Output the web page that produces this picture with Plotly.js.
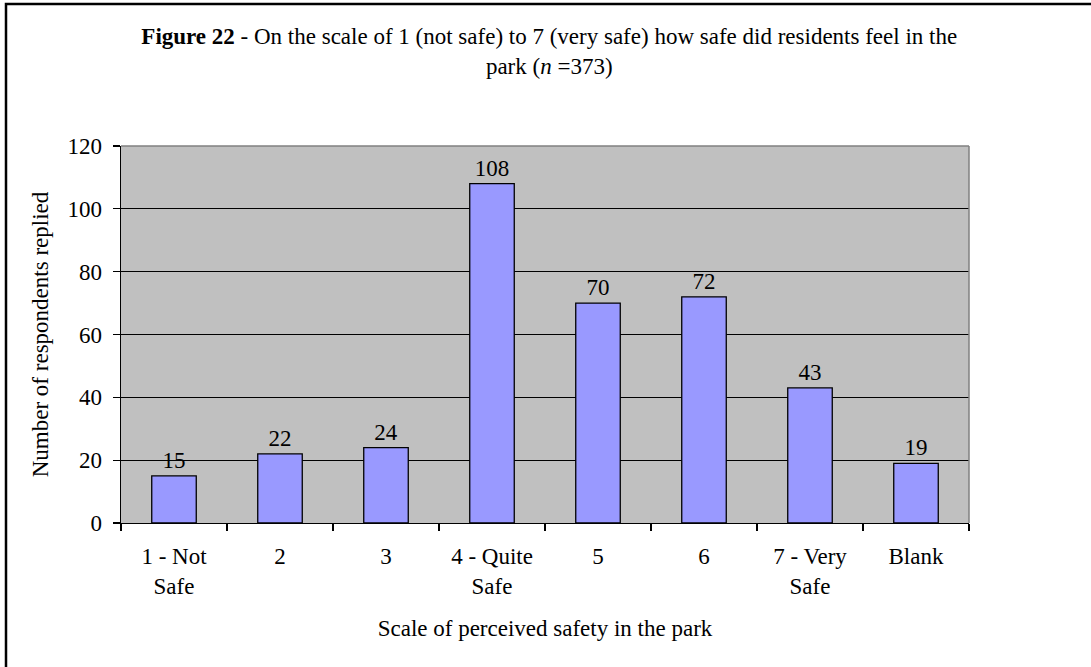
<!DOCTYPE html>
<html>
<head>
<meta charset="utf-8">
<script src="https://cdn.plot.ly/plotly-3.0.1.min.js"></script>
<style>
html, body { margin: 0; padding: 0; background: #ffffff; }
#chart { width: 1091px; height: 667px; }
</style>
</head>
<body>
<div id="chart"></div>
<script>
const categories = ["1 - Not<br>Safe", "2", "3", "4 - Quite<br>Safe", "5", "6", "7 - Very<br>Safe", "Blank"];
const values = [15, 22, 24, 108, 70, 72, 43, 19];
const yTicks = [0, 20, 40, 60, 80, 100, 120];

const FONT = "Liberation Serif, Times New Roman, serif";
const FS = 23;

const trace = {
  type: "bar",
  x: categories,
  y: values,
  text: values.map(String),
  textposition: "outside",
  cliponaxis: false,
  textfont: { family: FONT, size: FS, color: "#000000" },
  marker: { color: "#9999FF", line: { color: "#000000", width: 1.3 } },
  hoverinfo: "skip"
};

const layout = {
  width: 1091,
  height: 667,
  paper_bgcolor: "#ffffff",
  plot_bgcolor: "#C0C0C0",
  margin: { l: 121, r: 122, t: 146, b: 144, autoexpand: false },
  font: { family: FONT, size: FS, color: "#000000" },
  showlegend: false,
  bargap: 0.58,
  title: {
    text: "<b>Figure 22</b> - On the scale of 1 (not safe) to 7 (very safe) how safe did residents feel in the<br>park (<i>n</i> =373)",
    font: { family: FONT, size: FS, color: "#000000" },
    x: 0.505,
    xref: "paper",
    xanchor: "center",
    y: 1 - 44 / 667,
    yref: "container",
    yanchor: "top"
  },
  xaxis: {
    type: "category",
    tickson: "boundaries",
    ticks: "outside",
    ticklen: 7,
    tickwidth: 1.3,
    tickcolor: "#000000",
    ticklabelstandoff: 12,
    showline: true,
    linecolor: "#000000",
    linewidth: 1.3,
    showgrid: false,
    tickfont: { family: FONT, size: FS, color: "#000000" },
    automargin: false,
    title: {
      text: "Scale of perceived safety in the park",
      font: { family: FONT, size: FS, color: "#000000" },
      standoff: 22
    }
  },
  yaxis: {
    range: [0, 120],
    tickvals: yTicks,
    ticktext: yTicks.map(String),
    ticks: "outside",
    ticklen: 7,
    tickwidth: 1.3,
    tickcolor: "#000000",
    ticklabelstandoff: 6,
    showline: true,
    linecolor: "#000000",
    linewidth: 1.3,
    showgrid: true,
    gridcolor: "#000000",
    gridwidth: 1.2,
    zeroline: false,
    tickfont: { family: FONT, size: FS, color: "#000000" },
    automargin: false,
    title: {
      text: "Number of respondents replied",
      font: { family: FONT, size: FS, color: "#000000" },
      standoff: 12
    }
  },
  shapes: [
    { type: "line", xref: "paper", yref: "paper", x0: 0, x1: 1, y0: 1, y1: 1,
      line: { color: "#808080", width: 1.5 } },
    { type: "line", xref: "paper", yref: "paper", x0: 1, x1: 1, y0: 0, y1: 1,
      line: { color: "#808080", width: 1.5 } },
    { type: "rect", xref: "paper", yref: "paper",
      x0: (6 - 121) / 848, x1: 1.6, y0: -1, y1: (523 - 4) / 377,
      line: { color: "#000000", width: 2.5 }, fillcolor: "rgba(0,0,0,0)" }
  ]
};

Plotly.newPlot("chart", [trace], layout, { displayModeBar: false, staticPlot: true });
</script>
</body>
</html>
